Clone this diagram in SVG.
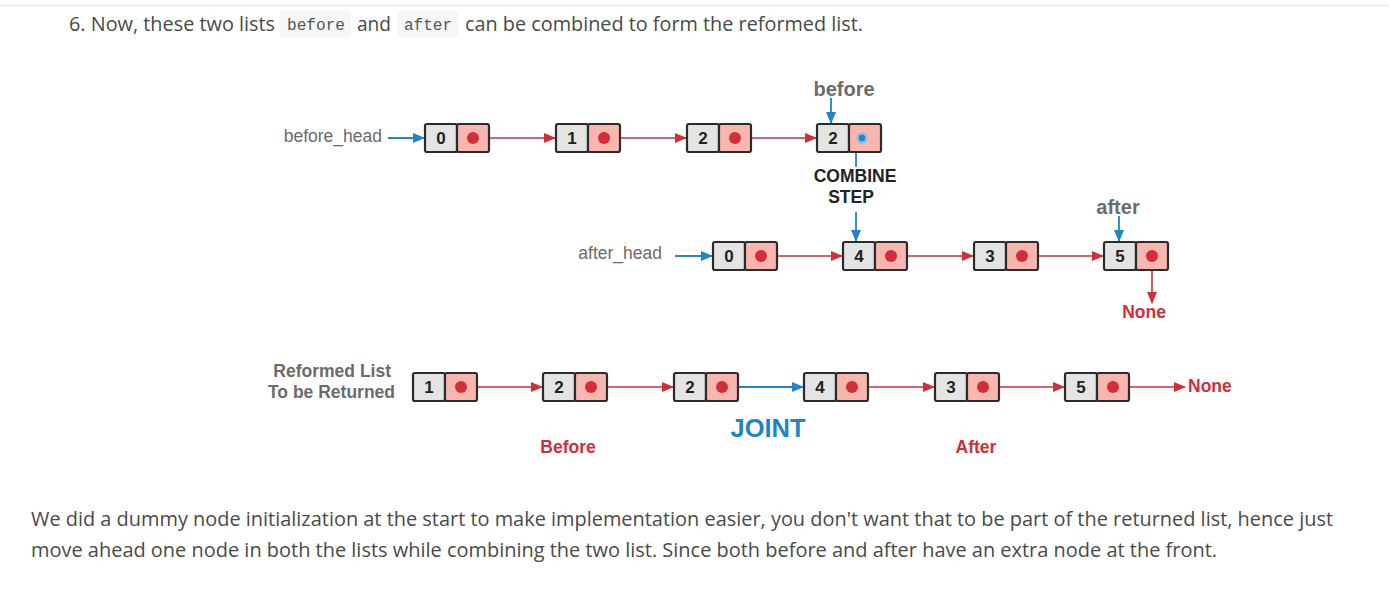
<svg xmlns="http://www.w3.org/2000/svg" width="1389" height="598" viewBox="0 0 1389 598">
<defs>
<style>
.l{fill:#e4e4e4;stroke:#2b2b2b;stroke-width:2.2}
.r{fill:#f8b6af;stroke:#2b2b2b;stroke-width:2.2}
.num{font-family:"Liberation Sans",Arial,sans-serif;font-weight:bold;font-size:17px;fill:#222;text-anchor:middle}
.dot{fill:#d12e3a}
.red{stroke:#d12e3a;stroke-width:1.6;fill:none}
.blue{stroke:#1f85c6;stroke-width:1.8;fill:none}
.lbl{font-family:"Liberation Sans",Arial,sans-serif;font-size:17.5px;fill:#6b6b6b}
.blbl{font-family:"Liberation Sans",Arial,sans-serif;font-size:20px;font-weight:bold;fill:#6b6b6b}
.bd{font-family:"Liberation Sans",Arial,sans-serif;font-size:17.5px;font-weight:bold}
.body{font-family:"Open Sans","Liberation Sans",sans-serif;font-size:20px;fill:#4a4a4a}
.code{font-family:"Liberation Mono","DejaVu Sans Mono",monospace;font-size:16px;fill:#555}
</style>
<marker id="ar" markerUnits="userSpaceOnUse" markerWidth="12" markerHeight="10" refX="11" refY="5" orient="auto"><path d="M0,0 L12,5 L0,10 Z" fill="#d12e3a"/></marker>
<marker id="ab" markerUnits="userSpaceOnUse" markerWidth="12" markerHeight="10" refX="11" refY="5" orient="auto"><path d="M0,0 L12,5 L0,10 Z" fill="#1f85c6"/></marker>
<g id="nd">
<rect class="l" x="0" y="0" width="32" height="28" rx="2"/>
<rect class="r" x="32" y="0" width="32" height="28" rx="2"/>
</g>
</defs>
<rect width="1389" height="598" fill="#fff"/>
<line x1="0" y1="5.5" x2="1389" y2="5.5" stroke="#e8e8e8" stroke-width="1.5"/>

<g id="header">
<text class="body" x="69" y="31" textLength="206" lengthAdjust="spacingAndGlyphs">6. Now, these two lists</text>
<rect x="280" y="11" width="71" height="26" rx="3" fill="#f4f6f8"/>
<text class="code" x="287" y="30" textLength="58" lengthAdjust="spacingAndGlyphs">before</text>
<text class="body" x="357" y="31" textLength="34" lengthAdjust="spacingAndGlyphs">and</text>
<rect x="398" y="11" width="60" height="26" rx="3" fill="#f4f6f8"/>
<text class="code" x="404" y="30" textLength="48" lengthAdjust="spacingAndGlyphs">after</text>
<text class="body" x="465" y="31" textLength="398" lengthAdjust="spacingAndGlyphs">can be combined to form the reformed list.</text>
</g>

<g id="connectors">
<line class="blue" x1="388" y1="138" x2="424" y2="138" marker-end="url(#ab)"/>
<line class="red" x1="473" y1="138" x2="555" y2="138" marker-end="url(#ar)"/>
<line class="red" x1="604" y1="138" x2="686" y2="138" marker-end="url(#ar)"/>
<line class="red" x1="735" y1="138" x2="816" y2="138" marker-end="url(#ar)"/>
<line class="blue" x1="831" y1="98" x2="831" y2="123" marker-end="url(#ab)"/>
<line class="blue" x1="856" y1="141" x2="856" y2="167"/>
<line class="blue" x1="856" y1="212" x2="856" y2="241" marker-end="url(#ab)"/>
<line class="blue" x1="675" y1="256" x2="712" y2="256" marker-end="url(#ab)"/>
<line class="red" x1="761" y1="256" x2="842" y2="256" marker-end="url(#ar)"/>
<line class="red" x1="891" y1="256" x2="973" y2="256" marker-end="url(#ar)"/>
<line class="red" x1="1022" y1="256" x2="1103" y2="256" marker-end="url(#ar)"/>
<line class="blue" x1="1119" y1="216" x2="1119" y2="241" marker-end="url(#ab)"/>
<line class="red" x1="1152" y1="256" x2="1152" y2="303" marker-end="url(#ar)"/>
<line class="red" x1="461" y1="387" x2="542" y2="387" marker-end="url(#ar)"/>
<line class="red" x1="591" y1="387" x2="673" y2="387" marker-end="url(#ar)"/>
<line class="blue" x1="722" y1="387" x2="803" y2="387" marker-end="url(#ab)"/>
<line class="red" x1="852" y1="387" x2="934" y2="387" marker-end="url(#ar)"/>
<line class="red" x1="983" y1="387" x2="1064" y2="387" marker-end="url(#ar)"/>
<line class="red" x1="1113" y1="387" x2="1185" y2="387" marker-end="url(#ar)"/>
</g>

<g id="labels">
<text class="lbl" x="382" y="142" text-anchor="end">before_head</text>
<text class="lbl" x="662" y="259" text-anchor="end">after_head</text>
<text class="blbl" x="844" y="96" text-anchor="middle">before</text>
<text class="blbl" x="1118" y="214" text-anchor="middle">after</text>
<text class="bd" x="855" y="182" text-anchor="middle" fill="#222">COMBINE</text>
<text class="bd" x="851" y="203" text-anchor="middle" fill="#222">STEP</text>
<text class="bd" x="1144" y="318" text-anchor="middle" fill="#d12e3a">None</text>
<text class="bd" x="1188" y="392" fill="#d12e3a">None</text>
<text class="bd" x="391" y="377" text-anchor="end" fill="#6b6b6b">Reformed List</text>
<text class="bd" x="395" y="398" text-anchor="end" fill="#6b6b6b">To be Returned</text>
<text class="bd" x="568" y="453" text-anchor="middle" fill="#d12e3a">Before</text>
<text class="bd" x="976" y="453" text-anchor="middle" fill="#d12e3a">After</text>
<text x="768" y="437" text-anchor="middle" font-family="Liberation Sans,Arial,sans-serif" font-size="25.5" font-weight="bold" fill="#1f85c6">JOINT</text>
</g>

<g id="b0"><use href="#nd" x="425" y="124"/><text class="num" x="441" y="144">0</text><circle class="dot" cx="473" cy="138" r="6"/></g>
<g id="b1"><use href="#nd" x="556" y="124"/><text class="num" x="572" y="144">1</text><circle class="dot" cx="604" cy="138" r="6"/></g>
<g id="b2"><use href="#nd" x="687" y="124"/><text class="num" x="703" y="144">2</text><circle class="dot" cx="735" cy="138" r="6"/></g>
<g id="b3"><use href="#nd" x="817" y="124"/><text class="num" x="833" y="144">2</text><circle cx="862" cy="138" r="5.5" fill="#7fc0ea"/><circle cx="862" cy="138" r="3.2" fill="#1f85c6"/></g>

<g id="a0"><use href="#nd" x="713" y="242"/><text class="num" x="729" y="262">0</text><circle class="dot" cx="761" cy="256" r="6"/></g>
<g id="a1"><use href="#nd" x="843" y="242"/><text class="num" x="859" y="262">4</text><circle class="dot" cx="891" cy="256" r="6"/></g>
<g id="a2"><use href="#nd" x="974" y="242"/><text class="num" x="990" y="262">3</text><circle class="dot" cx="1022" cy="256" r="6"/></g>
<g id="a3"><use href="#nd" x="1104" y="242"/><text class="num" x="1120" y="262">5</text><circle class="dot" cx="1152" cy="256" r="6"/></g>

<g id="r0"><use href="#nd" x="413" y="373"/><text class="num" x="429" y="393">1</text><circle class="dot" cx="461" cy="387" r="6"/></g>
<g id="r1"><use href="#nd" x="543" y="373"/><text class="num" x="559" y="393">2</text><circle class="dot" cx="591" cy="387" r="6"/></g>
<g id="r2"><use href="#nd" x="674" y="373"/><text class="num" x="690" y="393">2</text><circle class="dot" cx="722" cy="387" r="6"/></g>
<g id="r3"><use href="#nd" x="804" y="373"/><text class="num" x="820" y="393">4</text><circle class="dot" cx="852" cy="387" r="6"/></g>
<g id="r4"><use href="#nd" x="935" y="373"/><text class="num" x="951" y="393">3</text><circle class="dot" cx="983" cy="387" r="6"/></g>
<g id="r5"><use href="#nd" x="1065" y="373"/><text class="num" x="1081" y="393">5</text><circle class="dot" cx="1113" cy="387" r="6"/></g>

<g id="footer">
<text class="body" x="31" y="526" textLength="1302" lengthAdjust="spacingAndGlyphs">We did a dummy node initialization at the start to make implementation easier, you don't want that to be part of the returned list, hence just</text>
<text class="body" x="31" y="557" textLength="1186" lengthAdjust="spacingAndGlyphs">move ahead one node in both the lists while combining the two list. Since both before and after have an extra node at the front.</text>
</g>
</svg>
